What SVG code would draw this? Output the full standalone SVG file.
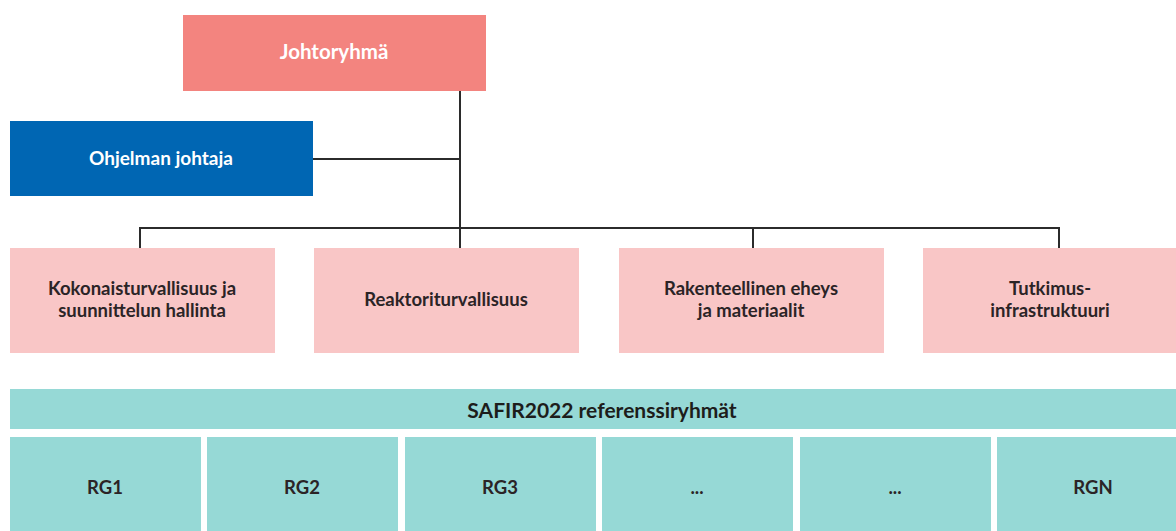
<svg xmlns="http://www.w3.org/2000/svg" width="1176" height="531" viewBox="0 0 1176 531">
<style>
text{font-family:Lato,"Open Sans","Liberation Sans",sans-serif;font-weight:bold;text-anchor:middle;dominant-baseline:central}
.w{fill:#fff;font-size:20.5px}
.d{fill:#2b2426;font-size:18.5px}
.t{fill:#1d1d1b;font-size:21px}
.pink{fill:#F9C6C6}
.teal{fill:#96D9D6}
.c{stroke:#2b2b2b;stroke-width:2;fill:none}
</style>
<rect width="1176" height="531" fill="#fff"/>
<g id="connectors">
<path class="c" d="M460 91V248M313 159H460M140 248V228H1059V248M753 228V248"/>
</g>
<g id="johtoryhma"><rect x="183" y="15" width="303" height="76" fill="#F3847F"/><text class="w" x="334" y="51">Johtoryhmä</text></g>
<g id="ohjelman-johtaja"><rect x="10" y="121" width="303" height="75" fill="#0066B3"/><text class="w" x="161" y="157" style="font-size:19px">Ohjelman johtaja</text></g>
<g id="kokonaisturvallisuus"><rect class="pink" x="10" y="248" width="265" height="105"/><text class="d" x="142" y="288">Kokonaisturvallisuus ja</text><text class="d" x="142" y="310">suunnittelun hallinta</text></g>
<g id="reaktoriturvallisuus"><rect class="pink" x="314" y="248" width="265" height="105"/><text class="d" x="446" y="299">Reaktoriturvallisuus</text></g>
<g id="rakenteellinen"><rect class="pink" x="619" y="248" width="265" height="105"/><text class="d" x="751" y="288">Rakenteellinen eheys</text><text class="d" x="751" y="310">ja materiaalit</text></g>
<g id="tutkimusinfra"><rect class="pink" x="923" y="248" width="253" height="105"/><text class="d" x="1050" y="288">Tutkimus-</text><text class="d" x="1050" y="310">infrastruktuuri</text></g>
<g id="safir"><rect class="teal" x="10" y="389" width="1166" height="40"/><text class="t" x="602" y="409">SAFIR2022 referenssiryhmät</text></g>
<g id="rg1"><rect class="teal" x="10" y="437" width="191" height="94"/><text class="d" x="105" y="487">RG1</text></g>
<g id="rg2"><rect class="teal" x="207" y="437" width="191" height="94"/><text class="d" x="302" y="487">RG2</text></g>
<g id="rg3"><rect class="teal" x="405" y="437" width="191" height="94"/><text class="d" x="500" y="487">RG3</text></g>
<g id="rg4"><rect class="teal" x="602" y="437" width="191" height="94"/><text class="d" x="697" y="487">...</text></g>
<g id="rg5"><rect class="teal" x="800" y="437" width="191" height="94"/><text class="d" x="895" y="487">...</text></g>
<g id="rgn"><rect class="teal" x="997" y="437" width="179" height="94"/><text class="d" x="1093" y="487">RGN</text></g>
</svg>
